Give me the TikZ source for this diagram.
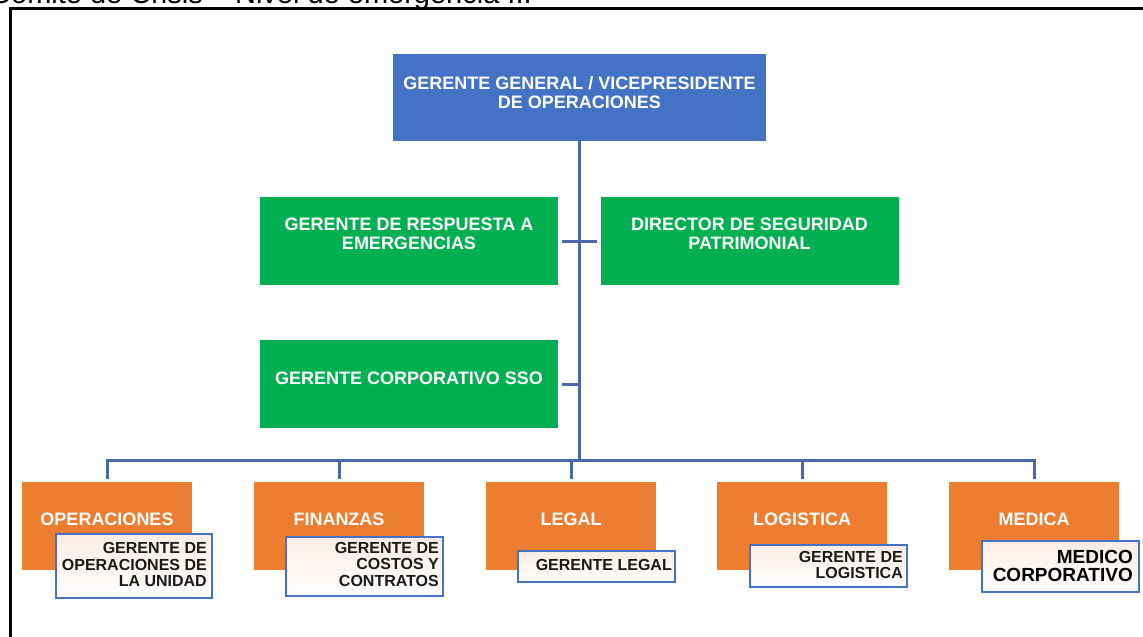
\documentclass[tikz,border=0pt]{standalone}
\usepackage{fontspec}
\setmainfont{Liberation Sans}
\definecolor{hdrblue}{HTML}{4472C4}
\definecolor{grn}{HTML}{00B050}
\definecolor{org}{HTML}{ED7D31}
\definecolor{conn}{HTML}{4A69AD}
\definecolor{subtop}{HTML}{FBECE5}
\begin{document}
\begin{tikzpicture}[x=1pt,y=-1pt,
  topbox/.style={fill=hdrblue, minimum width=373pt, minimum height=87pt, inner sep=0pt},
  greenbox/.style={fill=grn, minimum width=298pt, minimum height=88pt, inner sep=0pt},
  orgbox/.style={fill=org, minimum width=170pt, minimum height=88pt, inner sep=0pt},
  subbox/.style={draw=hdrblue, line width=1.8pt, top color=subtop, bottom color=white, inner sep=0pt},
  hdrtext/.style={text=white, font=\bfseries\fontsize{18}{19}\selectfont, align=center, inner sep=0pt},
  subtext/.style={text=black!90, font=\bfseries\fontsize{16}{16.5}\selectfont, align=right, inner sep=0pt, anchor=east},
  bigsub/.style={text=black, font=\bfseries\fontsize{19}{18.5}\selectfont, align=right, inner sep=0pt, anchor=east},
  link/.style={draw=conn, line width=3pt},
  frame/.style={draw=black, line width=3pt}]
\useasboundingbox (0,0) rectangle (1143,637);
\clip (0,0) rectangle (1143,637);

% title (cut off at top)
\node[anchor=base west, inner sep=0pt, font=\fontsize{29}{30}\selectfont] (title) at (-10,4) {Comité de Crisis – Nivel de emergencia III};

% frame
\draw[frame, line join=miter] (10.5,660) -- (10.5,8) -- (1160,8);

% top box
\node[topbox] (gg) at (579.5,97.5) {};
\node[hdrtext] (ggt) at (579.5,92.5) {GERENTE GENERAL / VICEPRESIDENTE\\DE OPERACIONES};

% green boxes
\node[greenbox] (g1) at (409,241) {};
\node[hdrtext] (g1t) at (409,233.5) {GERENTE DE RESPUESTA A\\EMERGENCIAS};
\node[greenbox] (g2) at (749.5,241) {};
\node[hdrtext] (g2t) at (749.5,233.5) {DIRECTOR DE SEGURIDAD\\PATRIMONIAL};
\node[greenbox] (sso) at (409,384) {};
\node[hdrtext] (ssot) at (409,378) {GERENTE CORPORATIVO SSO};

% orange boxes
\node[orgbox] (o1) at (107,526) {};
\node[orgbox] (o2) at (339,526) {};
\node[orgbox] (o3) at (571,526) {};
\node[orgbox] (o4) at (802,526) {};
\node[orgbox] (o5) at (1034,526) {};
\node[hdrtext] (o1t) at (107,519) {OPERACIONES};
\node[hdrtext] (o2t) at (339,519) {FINANZAS};
\node[hdrtext] (o3t) at (571,519) {LEGAL};
\node[hdrtext] (o4t) at (802,519) {LOGISTICA};
\node[hdrtext] (o5t) at (1034,519) {MEDICA};

% sub boxes
\node[subbox, minimum width=156pt, minimum height=64pt] (s1) at (134,566) {};
\node[subtext] (s1t) at (207,564.7) {GERENTE DE\\OPERACIONES DE\\LA UNIDAD};
\node[subbox, minimum width=157pt, minimum height=59pt] (s2) at (364.5,566.5) {};
\node[subtext] (s2t) at (439,564) {GERENTE DE\\COSTOS Y\\CONTRATOS};
\node[subbox, minimum width=157pt, minimum height=31pt] (s3) at (596.5,566.5) {};
\node[subtext] (s3t) at (672,564.7) {GERENTE LEGAL};
\node[subbox, minimum width=157pt, minimum height=42pt] (s4) at (828.5,566) {};
\node[subtext] (s4t) at (903,565) {GERENTE DE\\LOGISTICA};
\node[subbox, minimum width=157pt, minimum height=51pt] (s5) at (1060.5,566.5) {};
\node[bigsub] (s5t) at (1133,566) {MEDICO\\CORPORATIVO};

% connectors
\coordinate (bus) at (579.5,460);
\draw[link] (gg.south) -- (bus);
\draw[link] ([xshift=4pt]g1.east) -- ([xshift=-3pt]g2.west);
\draw[link] ([xshift=4pt]sso.east) -- (sso.east -| gg.south);
\draw[link, line join=miter] ([yshift=3pt]o1.north) |- (o5.north |- bus) -- ([yshift=3pt]o5.north);
\draw[link] ([yshift=3pt]o2.north) -- (o2.north |- bus);
\draw[link] ([yshift=3pt]o3.north) -- (o3.north |- bus);
\draw[link] ([yshift=3pt]o4.north) -- (o4.north |- bus);
\end{tikzpicture}
\end{document}
